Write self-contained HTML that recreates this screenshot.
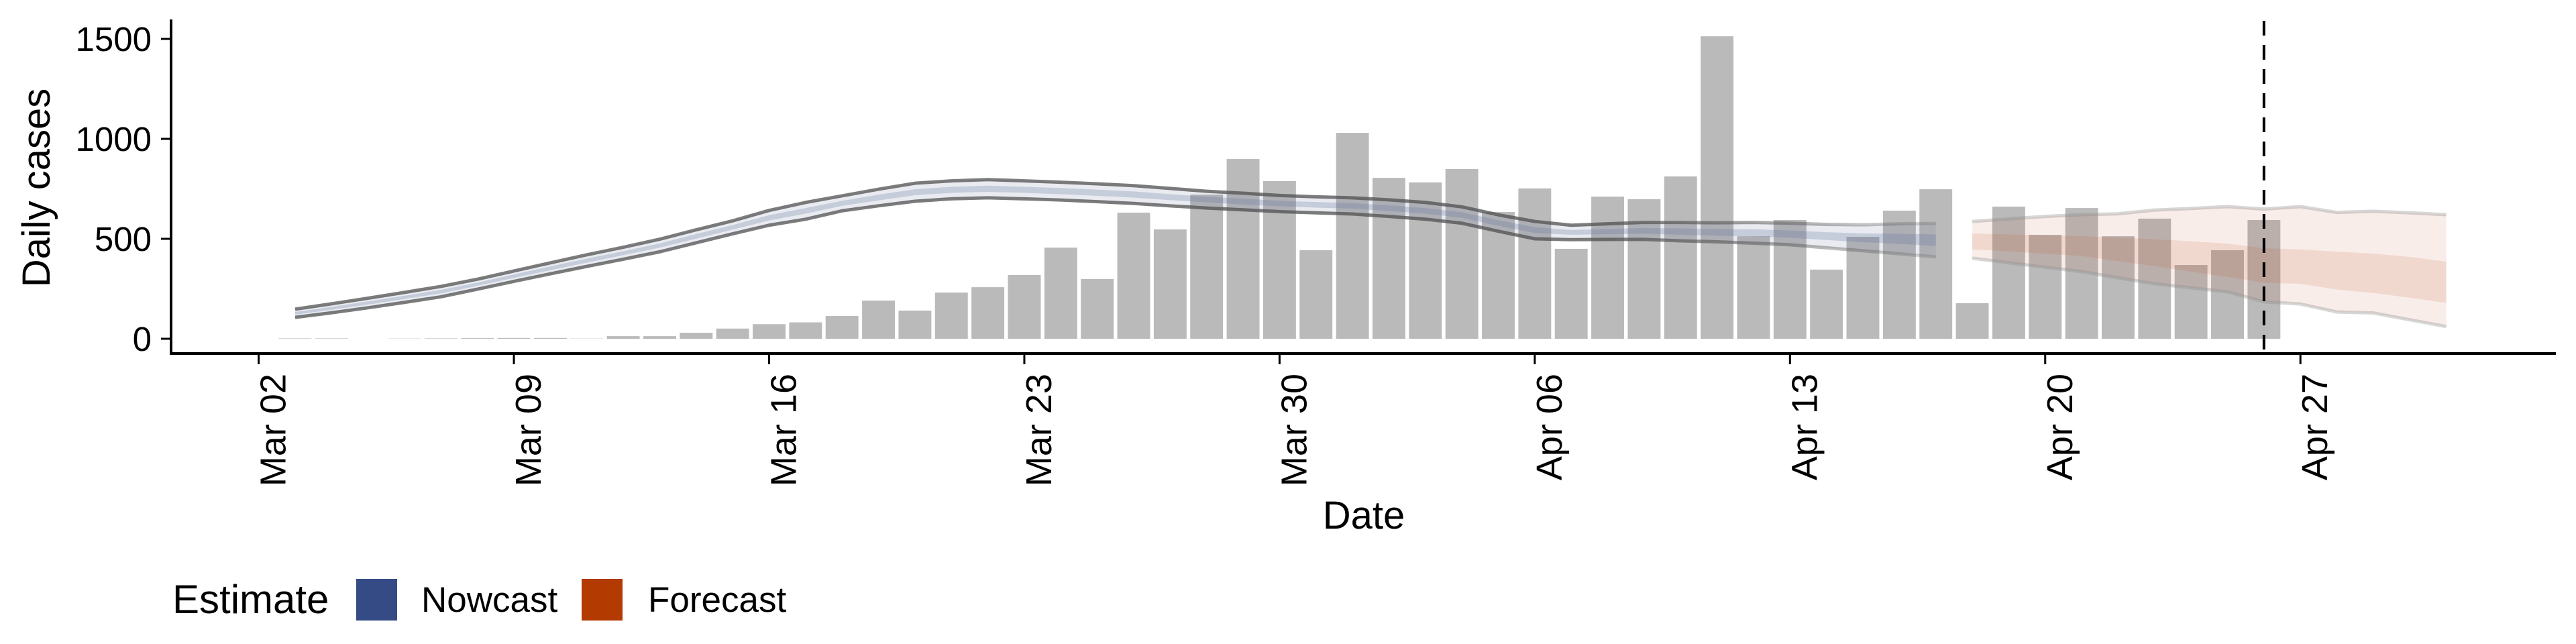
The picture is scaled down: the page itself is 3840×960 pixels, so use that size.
<!DOCTYPE html>
<html><head><meta charset="utf-8">
<style>
html,body{margin:0;padding:0;background:#fff;}
svg{display:block;font-family:"Liberation Sans",sans-serif;}
</style></head>
<body>
<svg id="chart" width="3840" height="960" viewBox="0 0 3840 960" xmlns="http://www.w3.org/2000/svg">
<defs>
<linearGradient id="nowLine" gradientUnits="userSpaceOnUse" x1="2400" y1="0" x2="2900" y2="0">
<stop offset="0" stop-color="rgb(80,80,80)" stop-opacity="0.75"/>
<stop offset="1" stop-color="rgb(80,80,80)" stop-opacity="0.2"/>
</linearGradient>
</defs>
<g id="bars"></g>
<g id="ribbons"></g>
<g id="axes"></g>
<text x="0" y="0" transform="translate(74,280) rotate(-90)" font-size="58" text-anchor="middle">Daily cases</text>
<text x="2033" y="788" font-size="58" text-anchor="middle">Date</text>
<g>
<text x="257" y="914" font-size="60">Estimate</text>
<rect x="531" y="863" width="61" height="62" fill="#344b85"/>
<text x="628" y="912" font-size="53">Nowcast</text>
<rect x="867" y="863" width="61" height="62" fill="#b33a00"/>
<text x="966" y="912" font-size="53">Forecast</text>
</g>
</svg>
<script>
const barDays = [1,2,3,4,5,6,7,8,9,10,11,12,13,14,15,16,17,18,19,20,21,22,23,24,25,26,27,28,29,30,31,32,33,34,35,36,37,38,39,40,41,42,43,44,45,46,47,48,49,50,51,52,53,54,55];
const barValues = [2,2,0,1,2,3,4,4,1,13,13,30,51,73,82,114,191,141,231,258,319,456,299,631,547,721,899,789,443,1030,805,782,849,634,752,450,711,698,812,1513,513,594,346,510,641,748,178,661,520,654,513,601,369,443,594];
const nowDays = [1,2,3,4,5,6,7,8,9,10,11,12,13,14,15,16,17,18,19,20,21,22,23,24,25,26,27,28,29,30,31,32,33,34,35,36,37,38,39,40,41,42,43,44,45,46];
const nowUpper = [148,175,203,232,262,298,339,380,420,458,498,545,590,642,682,715,748,778,790,796,790,783,775,766,752,738,728,717,710,705,695,682,660,620,587,568,575,582,582,580,582,578,572,570,575,577];
const nowLower = [107,130,155,182,210,248,287,325,362,398,435,480,525,568,598,640,665,688,700,705,700,694,686,677,665,654,645,636,630,624,612,598,578,538,500,496,497,497,490,485,478,470,455,440,425,409];
const nowInnerHi = [134,160,187,215,245,281,322,362,401,438,477,524,569,618,654,690,721,748,760,766,760,754,746,737,723,710,701,690,684,678,668,654,633,593,558,544,549,554,552,549,548,542,533,527,525,522];
const nowInnerLo = [121,145,171,199,227,265,304,343,381,418,456,501,546,592,626,665,692,718,730,735,730,723,715,706,694,682,672,663,656,651,639,626,605,565,529,520,523,525,520,516,512,506,494,483,475,464];
const fcDays = [47,48,49,50,51,52,53,54,55,56,57,58,59,60];
const fcUpper = [587,600,612,621,625,644,652,661,649,661,632,638,630,621];
const fcLower = [403,380,358,336,305,275,255,235,185,174,134,129,95,61];
const fcInnerHi = [527,522,518,514,506,498,488,476,453,447,436,426,410,386];
const fcInnerLo = [447,437,425,414,388,363,336,309,280,275,246,229,205,179];
const yTicks = [0,500,1000,1500];
const xTickDays = [0,7,14,21,28,35,42,49,56];
const xTickLabels = ["Mar 02","Mar 09","Mar 16","Mar 23","Mar 30","Apr 06","Apr 13","Apr 20","Apr 27"];
const forecastDateDay = 55;

const NS = "http://www.w3.org/2000/svg";
function xs(d){return 385.6 + d*54.35;}
function ys(v){return 505 - v*0.298;}
function mk(tag, attrs, parent){const e=document.createElementNS(NS,tag);for(const k in attrs)e.setAttribute(k,attrs[k]);parent.appendChild(e);return e;}

const gb = document.getElementById('bars');
barDays.forEach((d,i)=>{
  const w = 54.35*0.9;
  const r = mk('rect',{x:xs(d)-w/2,y:ys(barValues[i]),width:w,height:Math.max(0,ys(0)-ys(barValues[i])),fill:'#bababa'},gb);
  
  
});

const gr = document.getElementById('ribbons');
function band(days, hi, lo, fill, name){
  let p = days.map((d,i)=>xs(d)+','+ys(hi[i])).join(' ');
  p += ' ' + days.slice().reverse().map((d,j)=>{const i=days.length-1-j;return xs(d)+','+ys(lo[i]);}).join(' ');
  const e = mk('polygon',{points:p,fill:fill},gr);
  
  
}
function line(days, vals, stroke, name){
  const e = mk('polyline',{points:days.map((d,i)=>xs(d)+','+ys(vals[i])).join(' '),fill:'none',stroke:stroke,'stroke-width':5,'stroke-linejoin':'round'},gr);
  
  
}
band(nowDays, nowUpper, nowLower, 'rgba(97,114,155,0.14)', 'nowcast-outer-band');
band(nowDays, nowInnerHi, nowInnerLo, 'rgba(97,114,155,0.26)', 'nowcast-inner-band');
line(nowDays, nowUpper, 'url(#nowLine)', 'nowcast-upper-line');
line(nowDays, nowLower, 'url(#nowLine)', 'nowcast-lower-line');
band(fcDays, fcUpper, fcLower, 'rgba(192,80,42,0.10)', 'forecast-outer-band');
band(fcDays, fcInnerHi, fcInnerLo, 'rgba(192,80,42,0.13)', 'forecast-inner-band');
line(fcDays, fcUpper, 'rgba(140,140,140,0.35)', 'forecast-upper-line');
line(fcDays, fcLower, 'rgba(140,140,140,0.35)', 'forecast-lower-line');

const ga = document.getElementById('axes');
let e;
e = mk('line',{x1:255,y1:29,x2:255,y2:528,stroke:'#000','stroke-width':4},ga);


e = mk('line',{x1:253,y1:527,x2:3810,y2:527,stroke:'#000','stroke-width':4},ga);


yTicks.forEach(v=>{
  const t = mk('line',{x1:240,y1:ys(v),x2:255,y2:ys(v),stroke:'#000','stroke-width':3},ga);
  
  
  const l = mk('text',{x:226,y:ys(v)+18,'font-size':51,'text-anchor':'end'},ga);
  l.textContent = v;
  
  
});
xTickDays.forEach((d,i)=>{
  const t = mk('line',{x1:xs(d),y1:527,x2:xs(d),y2:543,stroke:'#000','stroke-width':3},ga);
  
  
  const l = mk('text',{x:0,y:0,'font-size':54,'text-anchor':'end',transform:'translate('+(xs(d)+40)+',557) rotate(-90)'},ga);
  l.textContent = xTickLabels[i];
  
  
});
e = mk('line',{x1:xs(forecastDateDay),y1:31,x2:xs(forecastDateDay),y2:527,stroke:'#000','stroke-width':4,'stroke-dasharray':'22,14'},ga);


</script>
</body></html>
